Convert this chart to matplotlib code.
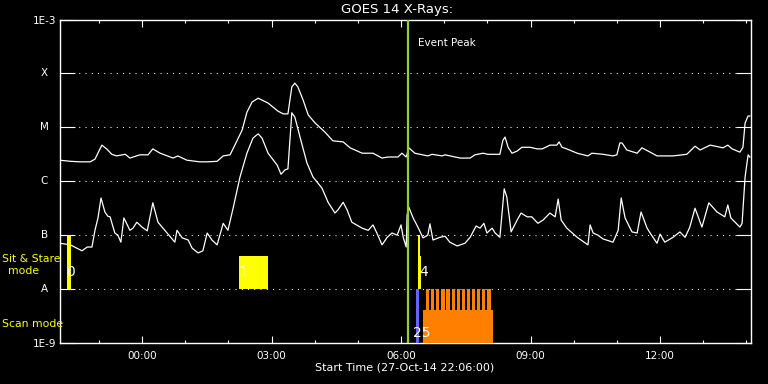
import numpy as np
import matplotlib
matplotlib.use('Agg')
import matplotlib.pyplot as plt
import matplotlib.transforms as mtransforms
from matplotlib.ticker import FixedLocator, FuncFormatter

# Time in hours from 00:00 on 28-Oct-14 (start is 22:06 on 27-Oct)
t_start, t_end = -1.9, 14.1

# GOES 14 long channel (1-8 A), log10 of flux in W/m^2
long_t = [-1.90, -1.66, -1.43, -1.20, -1.09, -0.93, -0.82, -0.70, -0.59, -0.39, -0.28, -0.05,
          0.14, 0.25, 0.42, 0.72, 0.83, 1.04, 1.34, 1.51, 1.74, 1.88, 2.04, 2.15, 2.32, 2.43,
          2.55, 2.69, 2.92, 3.15, 3.27, 3.38, 3.47, 3.54, 3.61, 3.73, 3.85, 4.01, 4.24, 4.42,
          4.66, 4.82, 5.10, 5.35, 5.56, 5.70, 5.93, 6.02, 6.12, 6.18, 6.32, 6.62, 6.72, 6.95,
          7.02, 7.25, 7.37, 7.60, 7.71, 7.90, 8.01, 8.29, 8.36, 8.41, 8.48, 8.57, 8.69, 8.80,
          8.99, 9.15, 9.27, 9.45, 9.61, 9.66, 9.73, 9.84, 10.08, 10.33, 10.42, 10.68, 10.91,
          11.00, 11.07, 11.12, 11.23, 11.47, 11.58, 11.77, 11.93, 12.30, 12.62, 12.81, 12.93,
          13.16, 13.46, 13.57, 13.67, 13.85, 13.92, 13.97, 14.04, 14.08]
long_log = [-5.61, -5.63, -5.64, -5.64, -5.59, -5.33, -5.40, -5.50, -5.53, -5.50, -5.57, -5.51,
            -5.51, -5.40, -5.48, -5.57, -5.53, -5.61, -5.64, -5.64, -5.63, -5.53, -5.51, -5.33,
            -5.05, -4.72, -4.53, -4.46, -4.55, -4.70, -4.75, -4.75, -4.25, -4.18, -4.25, -4.49,
            -4.77, -4.92, -5.09, -5.25, -5.27, -5.38, -5.48, -5.48, -5.57, -5.55, -5.55, -5.48,
            -5.55, -5.38, -5.48, -5.53, -5.50, -5.53, -5.51, -5.55, -5.57, -5.57, -5.51, -5.48,
            -5.50, -5.50, -5.24, -5.18, -5.37, -5.48, -5.44, -5.37, -5.37, -5.40, -5.40, -5.33,
            -5.33, -5.27, -5.37, -5.40, -5.48, -5.53, -5.48, -5.50, -5.53, -5.51, -5.29, -5.29,
            -5.42, -5.48, -5.38, -5.46, -5.53, -5.53, -5.50, -5.35, -5.42, -5.33, -5.38, -5.33,
            -5.40, -5.46, -5.37, -4.92, -4.79, -4.79]

# GOES 14 short channel (0.5-4 A)
short_t = [-1.90, -1.66, -1.51, -1.39, -1.27, -1.16, -1.09, -1.02, -0.95, -0.86, -0.79, -0.74,
           -0.63, -0.56, -0.49, -0.42, -0.28, -0.21, -0.12, 0.00, 0.12, 0.25, 0.37, 0.58, 0.76,
           0.81, 0.93, 1.07, 1.16, 1.30, 1.41, 1.51, 1.62, 1.74, 1.88, 1.99, 2.11, 2.27, 2.43,
           2.57, 2.69, 2.78, 2.92, 3.13, 3.22, 3.31, 3.38, 3.43, 3.47, 3.54, 3.66, 3.82, 3.96,
           4.17, 4.31, 4.47, 4.54, 4.66, 4.75, 4.86, 5.10, 5.24, 5.35, 5.44, 5.56, 5.68, 5.79,
           5.91, 6.00, 6.05, 6.12, 6.14, 6.18, 6.28, 6.39, 6.51, 6.62, 6.67, 6.74, 6.90, 7.02,
           7.13, 7.25, 7.30, 7.48, 7.60, 7.74, 7.83, 7.92, 7.99, 8.11, 8.18, 8.29, 8.39, 8.45,
           8.55, 8.69, 8.78, 8.92, 9.03, 9.17, 9.29, 9.45, 9.57, 9.64, 9.71, 9.84, 10.08, 10.33,
           10.38, 10.45, 10.56, 10.68, 10.91, 11.03, 11.10, 11.19, 11.35, 11.47, 11.56, 11.70,
           11.77, 11.93, 12.00, 12.11, 12.30, 12.46, 12.58, 12.69, 12.81, 12.97, 13.13, 13.32,
           13.50, 13.57, 13.64, 13.85, 13.90, 13.97, 14.04, 14.08]
short_log = [-7.15, -7.18, -7.24, -7.29, -7.22, -7.22, -6.91, -6.68, -6.31, -6.57, -6.65, -6.66,
             -6.96, -7.00, -7.13, -6.68, -6.91, -6.87, -6.76, -6.85, -6.92, -6.40, -6.76, -6.96,
             -7.13, -6.91, -7.05, -7.09, -7.24, -7.33, -7.29, -6.96, -7.09, -7.18, -6.78, -6.91,
             -6.50, -5.92, -5.48, -5.20, -5.12, -5.20, -5.48, -5.70, -5.87, -5.79, -5.77, -5.18,
             -4.73, -4.81, -5.18, -5.66, -5.92, -6.13, -6.39, -6.59, -6.53, -6.39, -6.53, -6.76,
             -6.87, -6.91, -6.81, -6.96, -7.18, -7.04, -6.96, -7.00, -6.81, -7.04, -7.22, -6.63,
             -6.48, -6.68, -6.85, -7.05, -7.00, -6.79, -7.09, -7.04, -7.02, -7.13, -7.18, -7.20,
             -7.15, -7.04, -6.83, -6.87, -6.78, -6.96, -6.87, -6.96, -7.04, -6.14, -6.29, -6.94,
             -6.72, -6.59, -6.66, -6.66, -6.78, -6.72, -6.59, -6.66, -6.33, -6.72, -6.87, -7.04,
             -7.18, -6.81, -6.96, -7.00, -7.07, -7.13, -6.91, -6.31, -6.68, -6.94, -6.96, -6.57,
             -6.87, -6.96, -7.15, -6.98, -7.13, -7.04, -6.94, -7.04, -6.85, -6.50, -6.85, -6.40,
             -6.57, -6.66, -6.44, -6.68, -6.85, -6.78, -5.92, -5.51, -5.55]

event_peak = 6.16

# GOES class levels
class_labels = ['A', 'B', 'C', 'M', 'X']
class_levels = [1e-8, 1e-7, 1e-6, 1e-5, 1e-4]

# Sit & stare observations
sit_start = [-1.745, 2.247, 6.39, 6.39]
sit_end = [-1.645, 2.919, 6.45, 6.47]
sit_bottom = [1e-8, 1e-8, 1e-8, 1e-8]
sit_top = [1e-7, 4.1e-8, 1e-7, 4.1e-8]
sit_labels = ['0', '1', '4']
sit_label_t = [-1.66, 2.34, 6.52]

# Scan mode observations
scan_blue_start, scan_blue_end = 6.35, 6.42
scan_base_start, scan_base_end = 6.51, 8.13
scan_base_top = 4.1e-9
scan_spike_starts = [6.579, 6.695, 6.811, 6.934, 7.049, 7.174, 7.290, 7.413, 7.529,
                     7.644, 7.760, 7.876, 7.998]
scan_spike_width = 0.08
scan_label = '25'
scan_label_t = 6.48

fig = plt.figure(figsize=(7.68, 3.84), dpi=100, facecolor='black')
ax = fig.add_axes([60 / 768, 1 - 343 / 384, 690.7 / 768, 323.5 / 384])
ax.set_facecolor('black')
ax.set_yscale('log')
ax.set_xlim(t_start, t_end)
ax.set_ylim(1e-9, 1e-3)

# dotted class lines
for lev in class_levels:
    ax.axhline(lev, color='white', lw=0.75, ls=(0, (1, 5)), zorder=1)

# curves
ax.plot(long_t, 10 ** np.array(long_log), color='white', lw=0.9, zorder=3)
ax.plot(short_t, 10 ** np.array(short_log), color='white', lw=0.9, zorder=3)

# event peak
ax.axvline(event_peak, color='#9acd32', lw=1.6, zorder=4)
ax.text(event_peak + 0.23, 10 ** -3.44, 'Event Peak', color='white', fontsize=7.5,
        va='center', ha='left')

# sit & stare boxes
for s, e, b, t in zip(sit_start, sit_end, sit_bottom, sit_top):
    ax.bar(s, t - b, width=e - s, bottom=b, align='edge', color='#ffff00', lw=0, zorder=5)
for lab, lt in zip(sit_labels, sit_label_t):
    ax.text(lt, 10 ** -7.69, lab, color='white', fontsize=10, ha='center', va='center', zorder=6)

# scan mode bars
ax.bar(scan_blue_start, 1e-8 - 1e-9, width=scan_blue_end - scan_blue_start, bottom=1e-9,
       align='edge', color='#6464ff', lw=0, zorder=5)
ax.bar(scan_base_start, scan_base_top - 1e-9, width=scan_base_end - scan_base_start,
       bottom=1e-9, align='edge', color='#ff8000', lw=0, zorder=5)
ax.bar(scan_spike_starts, 1e-8 - scan_base_top, width=scan_spike_width, bottom=scan_base_top,
       align='edge', color='#ff8000', lw=0, zorder=5)
ax.text(scan_label_t, 10 ** -8.82, scan_label, color='white', fontsize=10, ha='center',
        va='center', zorder=6)

# axes styling
for sp in ax.spines.values():
    sp.set_color('white')
    sp.set_linewidth(1.0)

ax.xaxis.set_major_locator(FixedLocator([0, 3, 6, 9, 12]))
ax.xaxis.set_minor_locator(FixedLocator(list(range(-1, 15))))
ax.xaxis.set_major_formatter(FuncFormatter(lambda v, p: '%02d:00' % (int(round(v)) % 24)))
ax.tick_params(axis='x', which='major', direction='in', length=4.8, width=0.8,
               colors='white', top=True, bottom=True, labelsize=7.5, pad=6)
ax.tick_params(axis='x', which='minor', direction='in', length=2.4, width=0.8,
               colors='white', top=True, bottom=True)

ax.yaxis.set_major_locator(FixedLocator([1e-9, 1e-8, 1e-7, 1e-6, 1e-5, 1e-4, 1e-3]))
ax.yaxis.set_minor_locator(FixedLocator([]))
ax.set_yticklabels(['1E-9', '', '', '', '', '', '1E-3'])
ax.tick_params(axis='y', which='major', direction='in', length=11, width=0.8,
               colors='white', left=True, right=True, labelsize=7.5, pad=2.5)

trans = mtransforms.blended_transform_factory(ax.transAxes, ax.transData)
for lab, lev in zip(class_labels, class_levels):
    ax.text(-0.023, lev, lab, transform=trans, color='white', fontsize=7.5,
            ha='center', va='center')

# titles and side labels
fig.text(397 / 768, 1 - 10 / 384, 'GOES 14 X-Rays:', color='white', fontsize=9.5,
         ha='center', va='center')
fig.text(405 / 768, 1 - 367 / 384, 'Start Time (27-Oct-14 22:06:00)', color='white',
         fontsize=8, ha='center', va='center')
fig.text(2 / 768, 1 - 259 / 384, 'Sit & Stare', color='#ffff00', fontsize=7.8,
         ha='left', va='center')
fig.text(24 / 768, 1 - 271 / 384, 'mode', color='#ffff00', fontsize=7.8,
         ha='center', va='center')
fig.text(2 / 768, 1 - 324 / 384, 'Scan mode', color='#ffff00', fontsize=7.8,
         ha='left', va='center')

fig.savefig('out.png', dpi=100, facecolor='black')
